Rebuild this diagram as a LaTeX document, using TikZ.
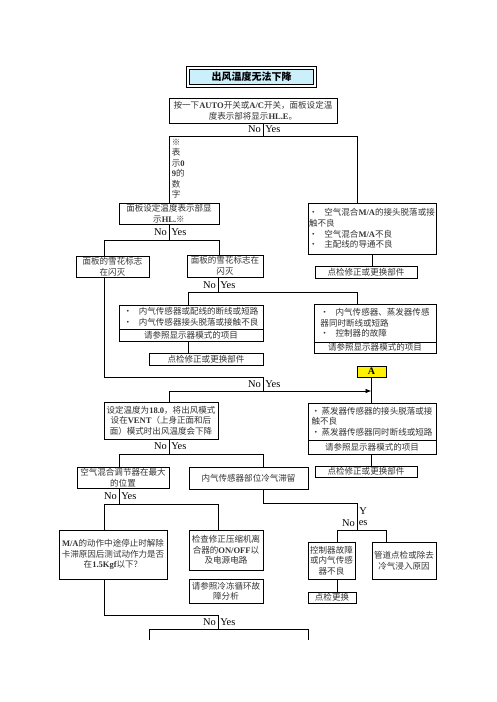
\documentclass[tikz,border=0pt]{standalone}
\usepackage{fontspec}
\setmainfont{Noto Sans CJK SC}
\newfontfamily\lat{Liberation Serif}
\newcommand\LB[1]{{\lat\bfseries #1}}
\newcommand\bul{•\hspace{5pt}}
\usetikzlibrary{arrows.meta}
\begin{document}
\begin{tikzpicture}[x=0.75pt,y=-0.75pt,line width=0.7pt,
  box/.style={draw, inner sep=0pt, align=center, text=black!80,
    font=\fontsize{6.4}{7.9}\selectfont},
  lbox/.style={box, align=left},
  sz/.style 2 args={minimum width=#1*0.75pt, minimum height=#2*0.75pt},
  title/.style={draw, line width=0.6pt, double, double distance=1.2pt,
    fill=cyan!20, inner sep=0pt, font=\fontsize{7.5}{8}\selectfont\bfseries},
  lbl/.style={inner sep=0.6pt, font=\lat\fontsize{7.8}{8}\selectfont}]
\useasboundingbox (0,0) rectangle (496,702);

% ---------- title
\node[title, sz={127}{18}] (T) at (251.5,77) {出风温度无法下降};

% ---------- step 1
\node[box, sz={168}{25}] (b1) at (253,110.5)
  {按一下\LB{AUTO}开关或\LB{A/C}开关，面板设定温\\度表示部将显示\LB{HL.E}。};
\coordinate (c1) at (263,136);
\coordinate (c1r) at (357,136);
\draw (b1.south -| c1) -- (c1);
\node[lbl, anchor=east] (n1) at (262,129.5) {No};
\node[lbl, anchor=west] (y1) at (264,129.5) {Yes};

\node[box, sz={100}{21}] (b2) at (169,213.5) {面板设定温度表示部显\\示\LB{HL.}※};
\node[lbox, sz={128}{51}] (r1) at (372,228.5)
  {\bul 空气混合\LB{M/A}的接头脱落或接\\触不良\\\bul 空气混合\LB{M/A}不良\\\bul 主配线的导通不良};
\node[box, sz={102}{12}] (r1b) at (366,272) {点检修正或更换部件};
\draw (b2.north) |- (c1r) -- (r1.north -| c1r);
\node[anchor=north west, inner sep=1pt, align=left, text=black!80,
  font=\fontsize{6.4}{7.9}\selectfont] (note) at (170,137)
  {※\\表\\示\LB{0}\\\LB{9}的\\数\\字};
\draw (r1.south) -- (r1.south |- r1b.north);

% ---------- step 2
\coordinate (c2) at (169,240);
\coordinate (c2l) at (104,240);
\coordinate (c2r) at (219,240);
\draw (b2.south) -- (c2);
\node[lbl, anchor=east] (n2) at (168,232.5) {No};
\node[lbl, anchor=west] (y2) at (170,232.5) {Yes};
\node[box, sz={73}{21}] (b3L) at (112.5,266.5) {面板的雪花标志\\在闪灭};
\node[box, sz={76}{22}] (b3R) at (225,266) {面板的雪花标志在\\闪灭};
\draw (b3L.north -| c2l) -- (c2l) -- (c2r) -- (b3R.north -| c2r);

% ---------- step 3
\coordinate (c3) at (218,292);
\coordinate (c3l) at (188,292);
\coordinate (c3r) at (357,292);
\draw (b3R.south -| c3) -- (c3);
\node[lbl, anchor=east] (n3) at (217,285) {No};
\node[lbl, anchor=west] (y3) at (219,285) {Yes};
\node[lbox, sz={144}{24}] (b4L) at (191,317)
  {\bul 内气传感器或配线的断线或短路\\\bul 内气传感器接头脱落或接触不良};
\node[box, sz={144}{12}] (b4Lb) at (191,335) {请参照显示器模式的项目};
\node[box, sz={114}{12}] (b5) at (206,359) {点检修正或更换部件};
\node[lbox, sz={122}{38}] (b4R) at (375,323)
  {\bul 内气传感器、蒸发器传感\\器同时断线或短路\\\bul 控制器的故障};
\node[box, sz={122}{11}] (b4Rb) at (375,347.5) {请参照显示器模式的项目};
\draw (b4L.north -| c3l) -- (c3l) -- (c3r) -- (b4R.north -| c3r);
\draw (b4Lb.south -| c3l) -- (b5.north -| c3l);

% ---------- step 4
\coordinate (c4) at (104,377);
\coordinate (c4r) at (263,377);
\coordinate (c5) at (263,391);
\coordinate (c5l) at (169,391);
\draw (b3L.south -| c4) -- (c4) -- (c4r) -- (c5);
\node[lbl, anchor=east] (n4) at (262,384) {No};
\node[lbl, anchor=west] (y4) at (264,384) {Yes};
\node[draw, fill=yellow, inner sep=0pt, sz={29}{11},
  font=\lat\bfseries\fontsize{7.5}{8}\selectfont] (A) at (371.5,371.5) {A};
\node[box, sz={114}{37}] (b6L) at (161,420.5)
  {设定温度为\LB{18.0}，将出风模式\\设在\LB{VENT}（上身正面和后\\面）模式时出风温度会下降};
\node[lbox, sz={128}{37}] (b6R) at (372,421.5)
  {•\,蒸发器传感器的接头脱落或接\\触不良\\•\,蒸发器传感器同时断线或短路};
\node[box, sz={128}{14}] (b6Rb) at (372,447) {请参照显示器模式的项目};
\node[box, sz={102}{11}] (b6R2) at (366,471.5) {点检修正或更换部件};
\draw (c5l) -- (b6L.north -| c5l);
\draw[-{Latex[length=4.5pt,width=3.5pt]}] (c5l) -- (c5l -| A.south);
\draw (A.south) -- (b6R.north -| A.south);
\draw (b6Rb.south -| A.south) -- (b6R2.north -| A.south);

% ---------- step 5
\coordinate (c6) at (169,454);
\coordinate (c6l) at (119,454);
\coordinate (c6r) at (263,454);
\draw (b6L.south -| c6) -- (c6);
\node[lbl, anchor=east] (n5) at (168,446.5) {No};
\node[lbl, anchor=west] (y5) at (170,446.5) {Yes};
\node[box, sz={92}{21}] (b7L) at (123,477.5) {空气混合调节器在最大\\的位置};
\node[box, sz={119}{22}] (b7R) at (248.5,478) {内气传感器部位冷气滞留};
\draw (b7L.north -| c6l) -- (c6l) -- (c6r) -- (b7R.north -| c6r);

% ---------- step 6 (left)
\coordinate (c7) at (119,504);
\coordinate (c7l) at (104,504);
\coordinate (c7r) at (218,504);
\draw (b7L.south -| c7) -- (c7);
\node[lbl, anchor=east] (n6) at (118,496) {No};
\node[lbl, anchor=west] (y6) at (120,496) {Yes};
\node[box, sz={108}{49}] (b9) at (113,554.5)
  {\LB{M/A}的动作中途停止时解除\\卡滞原因后测试动作力是否\\在\LB{1.5Kgf}以下？};
\node[box, sz={74}{40}] (b10) at (226,550) {检查修正压缩机离\\合器的\LB{ON/OFF}以\\及电源电路};
\node[box, sz={74}{24}] (b11) at (226,591) {请参照冷冻循环故\\障分析};
\draw (b9.north -| c7l) -- (c7l) -- (c7r) -- (b10.north -| c7r);

% ---------- step 6 (right)
\coordinate (c8) at (357,503);
\coordinate (c9) at (357,530);
\coordinate (c9l) at (337,530);
\coordinate (c9r) at (386,530);
\draw (b7R.south -| c6r) |- (c8) -- (c9);
\node[lbl, anchor=west] (yy) at (358,511) {Y};
\node[lbl, anchor=east] (n7) at (356,523) {No};
\node[lbl, anchor=west] (y7) at (357.5,523) {es};
\node[box, sz={47}{37}] (b8a) at (331.5,560.5) {控制器故障\\或内气传感\\器不良};
\node[box, sz={64}{37}] (b8b) at (404,560.5) {管道点检或除去\\冷气浸入原因};
\node[box, sz={48}{11}] (b8c) at (332,597.5) {点检更换};
\draw (b8a.north -| c9l) -- (c9l) -- (c9r) -- (b8b.north -| c9r);
\draw (b8a.south -| c9l) -- (b8c.north -| c9l);

% ---------- step 7
\coordinate (c10) at (104,615);
\coordinate (c10r) at (218,615);
\coordinate (c11) at (218,629);
\coordinate (c11l) at (149,629);
\coordinate (c11r) at (308,629);
\coordinate (e1) at (149,640);
\coordinate (e2) at (308,640);
\draw (b9.south -| c10) -- (c10) -- (c10r) -- (c11);
\node[lbl, anchor=east] (n8) at (217,622) {No};
\node[lbl, anchor=west] (y8) at (219,622) {Yes};
\draw (e1) -- (c11l) -- (c11r) -- (e2);
\end{tikzpicture}
\end{document}
